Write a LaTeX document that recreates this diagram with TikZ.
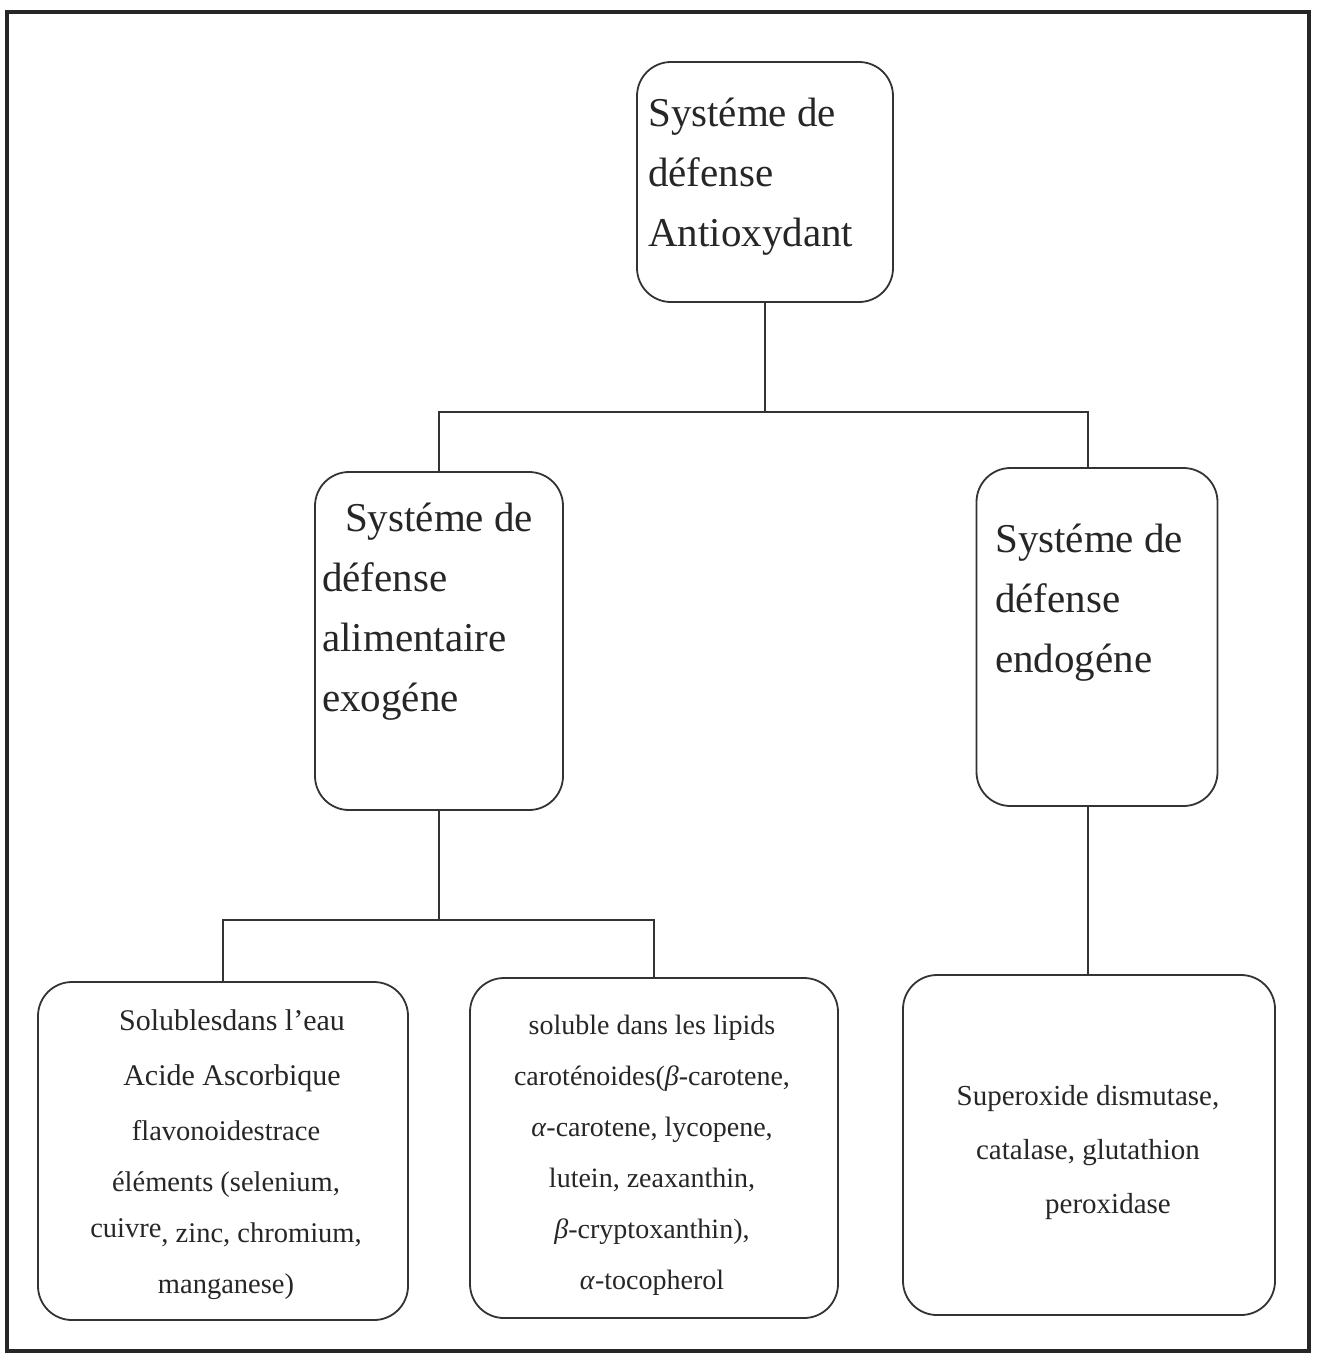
\documentclass[tikz,border=0pt]{standalone}
\usepackage{fontspec}
\setmainfont{Liberation Serif}
\begin{document}
\begin{tikzpicture}[x=1pt,y=-1pt,
  frame/.style={draw=black!85, line width=4.5pt},
  box/.style={draw=black!80, line width=1.8pt, rounded corners=34pt, inner sep=0pt},
  ln/.style={draw=black!80, line width=1.6pt},
  bigtxt/.style={inner sep=0pt, anchor=north west, align=left, text=black!85,
    font=\fontsize{41}{60}\selectfont},
  smalltxt/.style={inner sep=0pt, anchor=north, align=center, text=black!85}]
\useasboundingbox (0,0) rectangle (1317,1360);
\draw[frame] (7,12) rectangle (1309,1351);

% boxes
\node[box, minimum width=256pt, minimum height=240pt] (top) at (765,182) {};
\node[box, minimum width=248pt, minimum height=338pt] (lm) at (439,641) {};
\node[box, minimum width=241pt, minimum height=338pt] (rm) at (1097,637) {};
\node[box, minimum width=370pt, minimum height=338pt] (bl) at (223,1151) {};
\node[box, minimum width=368pt, minimum height=340pt] (bm) at (654,1148) {};
\node[box, minimum width=372pt, minimum height=340pt] (br) at (1089,1145) {};

% texts
\node[bigtxt] (ttop) at (648,98) {Systéme de\\défense\\Antioxydant};
\node[bigtxt] (tlm) at (322,503) {\hspace*{23pt}Systéme de\\défense\\alimentaire\\exogéne};
\node[bigtxt] (trm) at (995,524) {Systéme de\\défense\\endogéne};

\node[smalltxt, font=\fontsize{30}{55}\selectfont] (tbl1) at (232,1009)
  {Solublesdans l'eau\\Acide Ascorbique};
\node[smalltxt, font=\fontsize{28.5}{51}\selectfont] (tbl2) at (226,1120)
  {flavonoidestrace\\éléments (selenium,\\\raisebox{5pt}{cuivre}, zinc, chromium,\\manganese)};
\node[smalltxt, font=\fontsize{28}{51}\selectfont] (tbm) at (652,1015)
  {soluble dans les lipids\\caroténoides(\textit{β}-carotene,\\\textit{α}-carotene, lycopene,\\lutein, zeaxanthin,\\\textit{β}-cryptoxanthin),\\\textit{α}-tocopherol};
\node[smalltxt, font=\fontsize{29}{54}\selectfont] (tbr) at (1088,1085)
  {Superoxide dismutase,\\catalase, glutathion\\\hspace*{40pt}peroxidase};

% connectors
\coordinate (j1) at (765,412);
\coordinate (j2) at (439,920);
\draw[ln] (top.south) -- (j1);
\draw[ln] (lm.north) |- (j1) -| ([xshift=-9pt]rm.north);
\draw[ln] (lm.south) -- (j2);
\draw[ln] (bl.north) |- (j2) -| (bm.north);
\draw[ln] ([xshift=-9pt]rm.south) -- ([xshift=-9pt]rm.south |- br.north);
\end{tikzpicture}
\end{document}
